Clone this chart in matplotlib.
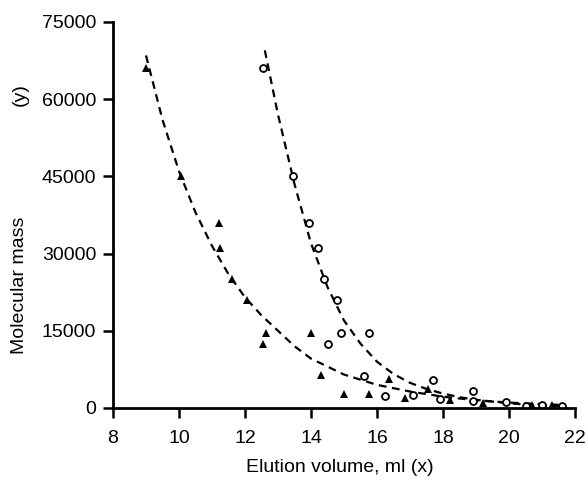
import matplotlib
matplotlib.use('Agg')
import matplotlib.pyplot as plt

plt.rcParams['font.family'] = ['Liberation Sans', 'DejaVu Sans']

# filled triangles
tri_x = [9.0, 10.05, 11.2, 11.25, 11.6, 12.05, 12.55, 12.65, 14.0, 14.3,
         15.0, 15.75, 16.35, 16.85, 17.55, 18.2, 19.2, 20.5, 20.7, 21.0, 21.3]
tri_y = [66000, 45000, 36000, 31000, 25000, 21000, 12500, 14500, 14500, 6500,
         2700, 2700, 5600, 1900, 3600, 1500, 1000, 400, 500, 600, 500]

# open circles
circ_x = [12.55, 13.45, 13.95, 14.2, 14.4, 14.8, 14.5, 14.9, 15.75, 15.6,
          16.25, 17.1, 17.7, 17.9, 18.9, 18.9, 19.9, 20.5, 21.0, 21.6]
circ_y = [66000, 45000, 36000, 31000, 25000, 21000, 12500, 14500, 14500, 6200,
          2400, 2600, 5500, 1800, 3400, 1300, 1200, 300, 500, 300]

# dashed fit curves
fitA_x = [9.0, 9.5, 10.0, 10.5, 11.0, 11.5, 12.0, 12.5, 13.0, 13.5, 14.0, 15.0,
          16.0, 17.0, 18.0, 19.0, 20.0, 21.0, 21.6]
fitA_y = [68500, 56000, 46000, 38000, 31500, 26000, 21500, 18000, 15000, 12000,
          9600, 6500, 4500, 3200, 2200, 1500, 1050, 750, 600]

fitB_x = [12.6, 13.0, 13.5, 14.0, 14.5, 15.0, 15.5, 16.0, 16.5, 17.0, 17.5, 18.0,
          18.5, 19.0, 20.0, 21.0, 21.6]
fitB_y = [69500, 57000, 43500, 32000, 23500, 17000, 12500, 9000, 6600, 4900,
          3700, 2800, 2100, 1600, 900, 500, 350]

xticks = [8, 10, 12, 14, 16, 18, 20, 22]
yticks = [0, 15000, 30000, 45000, 60000, 75000]

fontsize = 14

fig = plt.figure(figsize=(5.88, 4.86), dpi=100)
ax = fig.add_axes([113 / 588, 1 - 408 / 486, (575 - 113) / 588, (408 - 22) / 486])

ax.plot(fitA_x, fitA_y, color='k', lw=1.6, dashes=(3.5, 2.5))
ax.plot(fitB_x, fitB_y, color='k', lw=1.6, dashes=(3.5, 2.5))
ax.plot(tri_x, tri_y, '^', color='k', ms=6, mew=0)
ax.plot(circ_x, circ_y, 'o', mfc='white', mec='k', ms=5, mew=1.3)

ax.set_xlim(8, 22)
ax.set_ylim(0, 75000)
ax.set_xticks(xticks)
ax.set_yticks(yticks)
ax.set_xticklabels([str(t) for t in xticks], fontsize=fontsize)
ax.set_yticklabels([str(t) for t in yticks], fontsize=fontsize)
ax.tick_params(direction='out', length=7, width=1.8)
ax.tick_params(axis='x', pad=9)
ax.tick_params(axis='y', pad=5)

for s in ['top', 'right']:
    ax.spines[s].set_visible(False)
for s in ['left', 'bottom']:
    ax.spines[s].set_linewidth(2.0)
ax.spines['bottom'].set_bounds(8, 22)
ax.spines['left'].set_bounds(0, 75000)

fig.text(340 / 588, 1 - 468 / 486, 'Elution volume, ml (x)', fontsize=fontsize,
         ha='center', va='center')
fig.text(20 / 588, 1 - 285 / 486, 'Molecular mass', fontsize=fontsize,
         rotation=90, ha='center', va='center')
fig.text(20 / 588, 1 - 95 / 486, '(y)', fontsize=fontsize,
         rotation=90, ha='center', va='center')

plt.savefig('out.png', dpi=100)
